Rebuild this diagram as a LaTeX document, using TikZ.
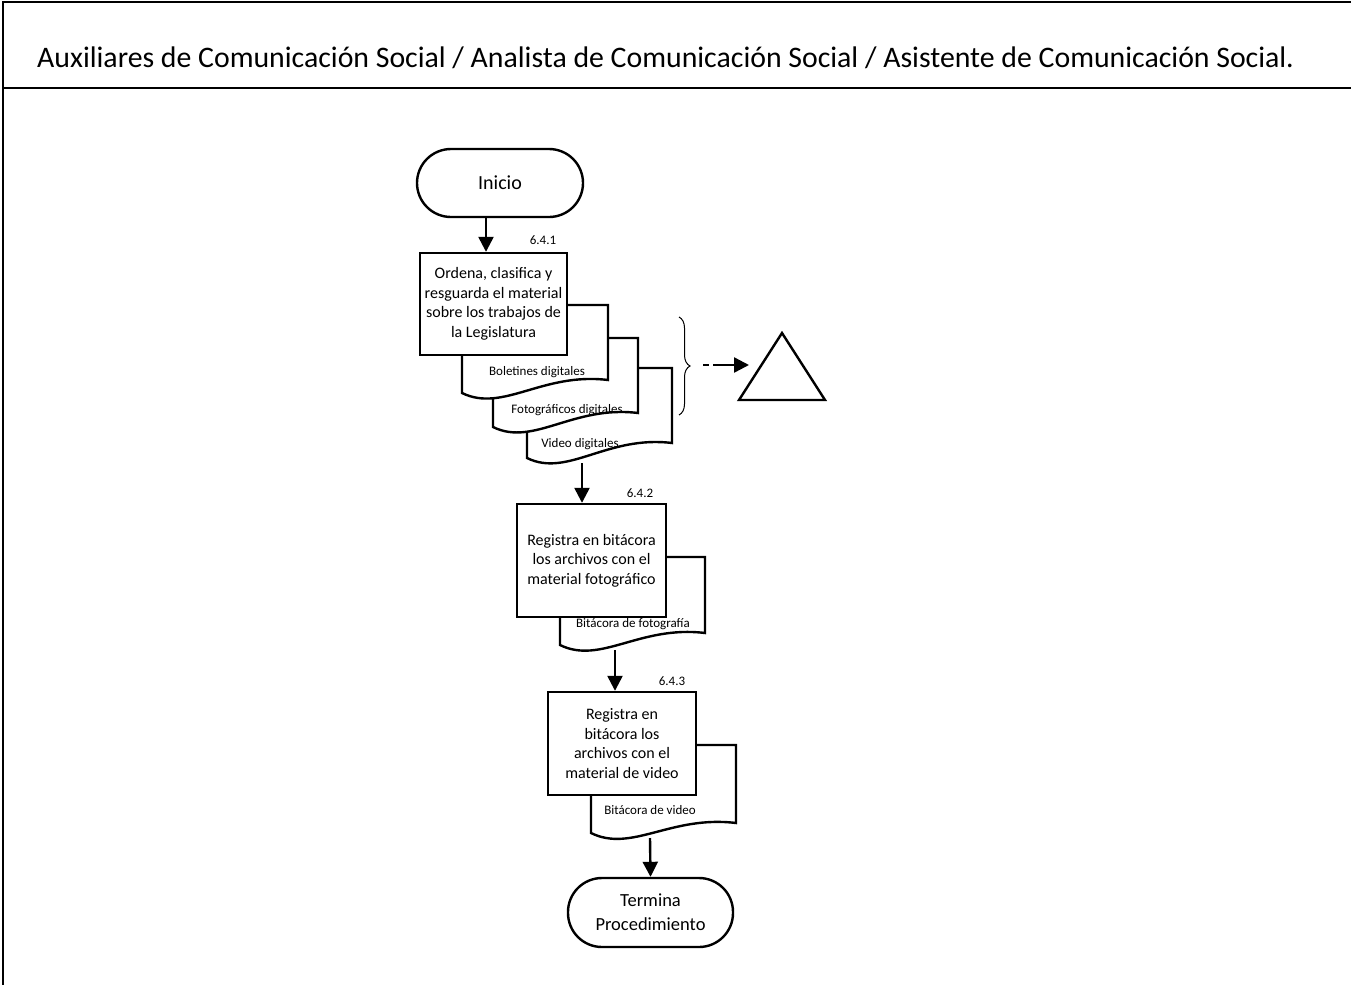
\documentclass[tikz,border=0pt]{standalone}
\usepackage{fontspec}
\setmainfont{Carlito}
\usetikzlibrary{arrows.meta,decorations.pathreplacing}

% document symbol: left, top, right, bottom left, bottom right
\newcommand{\docSymbol}[5]{%
  \path[docshape] (#1,#4) -- (#1,#2) -- (#3,#2) -- (#3,#5)
    .. controls ({#1+0.55*(#3-#1)},{#5-8}) and ({#1+0.28*(#3-#1)},{#4+20}) .. (#1,#4) -- cycle;}

\begin{document}
\begin{tikzpicture}[x=1pt,y=-1pt,
  frameline/.style={line width=1.5pt},
  stepbox/.style={draw,fill=white,line width=2.4pt,inner sep=0pt,align=center,
    font=\fontsize{16}{19.5}\selectfont},
  terminal/.style={stepbox,rounded corners=34pt,font=\fontsize{18.5}{24}\selectfont},
  docshape/.style={draw,fill=white,line width=2.4pt},
  doclabel/.style={font=\fontsize{13}{15}\selectfont,inner sep=0pt},
  steplabel/.style={font=\fontsize{13}{15}\selectfont,inner sep=0pt},
  flow/.style={line width=2.4pt,-{Triangle[length=15pt,width=15pt]}}]
\useasboundingbox (0,0) rectangle (1351,985);

% frame and header
\draw[frameline] (1351,2) -- (3,2) -- (3,985);
\draw[frameline] (3,88) -- (1351,88);
\node[anchor=west,inner sep=0pt,font=\fontsize{29.8}{34}\selectfont] (title) at (37,58)
  {Auxiliares de Comunicación Social / Analista de Comunicación Social / Asistente de Comunicación Social.};

% start
\node[terminal,minimum width=166pt,minimum height=68pt,font=\fontsize{20}{24}\selectfont]
  (inicio) at (500,183) {Inicio};

% 6.4.1 with its documents
\docSymbol{527}{368}{672}{458}{443}
\docSymbol{493}{338}{638}{427}{413}
\docSymbol{462}{305}{608}{393}{380}
\node[stepbox,minimum width=147pt,minimum height=102pt] (ordena) at (493.5,304)
  {Ordena, clasifica y\\resguarda el material\\sobre los trabajos de\\la Legislatura};
\node[steplabel] (num1) at (543,240) {6.4.1};
\node[doclabel] (boletines) at (537,372) {Boletines digitales};
\node[doclabel] (fotos) at (567,410) {Fotográficos digitales};
\node[doclabel] (video) at (580,444) {Video digitales};
\coordinate (docsend) at (582,463);
\coordinate (startx) at (486,0);

% archive
\draw[line width=1pt,decorate,decoration={brace,amplitude=11pt}]
  (679,317) -- (679,415);
\coordinate (bracetip) at (703,365);
\draw[line width=2.4pt] (739,400) -- (782,333) -- (825,400) -- cycle;
\coordinate (archivo) at (749,365);
\draw[line width=2.4pt,dash pattern=on 6pt off 4pt on 24pt off 4pt,
  -{Triangle[length=15pt,width=15pt]}] (bracetip) -- (archivo);

% 6.4.2
\docSymbol{560}{557}{705}{645}{633}
\node[stepbox,minimum width=149pt,minimum height=113pt] (regfoto) at (591.5,560.5)
  {Registra en bitácora\\los archivos con el\\material fotográfico};
\node[steplabel] (num2) at (640,493) {6.4.2};
\node[doclabel] (bitfoto) at (633,624) {Bitácora de fotografía};
\coordinate (fotoend) at (615,650);

% 6.4.3
\docSymbol{591}{745}{736}{833}{823}
\node[stepbox,minimum width=148pt,minimum height=103pt] (regvideo) at (622,743.5)
  {Registra en\\bitácora los\\archivos con el\\material de video};
\node[steplabel] (num3) at (672,681) {6.4.3};
\node[doclabel] (bitvideo) at (650,810) {Bitácora de video};
\coordinate (videoend) at (650,838);

% end
\node[terminal,minimum width=165pt,minimum height=69pt] (termina) at (650.5,912.5)
  {Termina\\Procedimiento};

% flow
\draw[flow] (inicio.south -| startx) -- (ordena.north -| startx);
\draw[flow] (docsend) -- (docsend |- regfoto.north);
\draw[flow] (fotoend) -- (fotoend |- regvideo.north);
\draw[flow] (videoend) -- (termina.north);
\end{tikzpicture}
\end{document}
